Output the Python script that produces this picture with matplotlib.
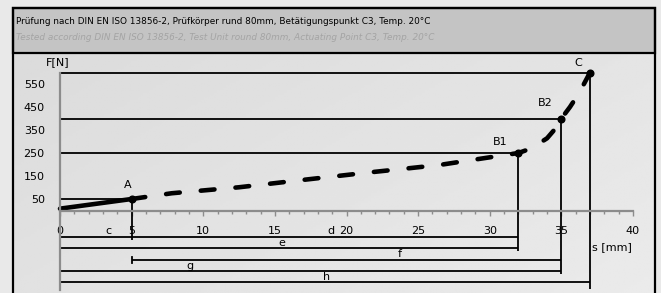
import matplotlib
matplotlib.use("Agg")
import matplotlib.pyplot as plt
import numpy as np
from matplotlib.patches import Rectangle

# force curve (s in mm, F in N)
s_solid = [0, 5]
f_solid = [8, 50]
s_dash = [5, 7.8, 12.5, 17.1, 21.8, 24.1, 26.5, 28.7, 32, 32.9, 34.0, 34.8, 35, 35.6, 36.25, 37]
f_dash = [50, 75, 101, 134, 167, 182, 198, 219, 250, 270, 314, 372, 400, 450, 512, 600]

# characteristic points
pt_names = ["A", "B1", "B2", "C"]
pt_s = [5, 32, 35, 37]
pt_f = [50, 250, 400, 600]

# dimension rows: (start, end, row level in N)
dim_start = [0, 0, 5, 0, 0]
dim_end = [32, 32, 35, 35, 37]
dim_level = [-116, -164, -214, -262, -311]
dim_names = ["c", "d", "e", "f", "g", "h"]
dim_label_s = [3.4, 18.9, 15.5, 23.7, 9.1, 18.6]
dim_label_f = [-90, -90, -140, -190, -240, -288]
drop_ends = [-128, -176, -277, -343]

x_ticks = [0, 5, 10, 15, 20, 25, 30, 35, 40]
y_ticks = [50, 150, 250, 350, 450, 550]

title_de = "Prüfung nach DIN EN ISO 13856-2, Prüfkörper rund 80mm, Betätigungspunkt C3, Temp. 20°C"
title_en = "Tested according DIN EN ISO 13856-2, Test Unit round 80mm, Actuating Point C3, Temp. 20°C"

plt.rcParams['font.family'] = ['DejaVu Sans']
FS = 8
FS_TITLE = 6.4

W, H = 661, 293
fig = plt.figure(figsize=(W / 100, H / 100), dpi=100)
fig.patch.set_facecolor("#e9e9e9")

# background gradient inside the frame
bg = fig.add_axes([13 / W, 0, 642 / W, (H - 53) / H], zorder=-1)
gx = np.linspace(0, 1, 200)
gy = np.linspace(0, 1, 100)
GX, GY = np.meshgrid(gx, gy)
grad = 0.86 + 0.06 * np.clip(0.6 * GX + 0.4 * GY, 0, 1)
bg.imshow(grad, cmap="gray", vmin=0, vmax=1, aspect="auto", extent=[0, 1, 0, 1])
bg.set_axis_off()

# frame and header
fig.add_artist(Rectangle((13 / W, -0.1), 642 / W, (H - 8) / H + 0.1, transform=fig.transFigure,
                         facecolor="none", edgecolor="black", lw=1.6, zorder=5))
fig.add_artist(Rectangle((13 / W, (H - 53) / H), 642 / W, 45 / H, transform=fig.transFigure,
                         facecolor="#c4c4c4", edgecolor="black", lw=1.6, zorder=4))
fig.text(16 / W, (H - 21) / H, title_de, fontsize=FS_TITLE, va="center", ha="left",
         color="black", zorder=6)
fig.text(16 / W, (H - 37) / H, title_en, fontsize=FS_TITLE, va="center", ha="left",
         color="#a4a4a4", style="italic", zorder=6)

ax = fig.add_axes([60 / W, 3.15 / H, 573 / W, 231.15 / H])
ax.set_facecolor("none")
ax.set_xlim(0, 40)
ax.set_ylim(-345, 660)

for sp in ["top", "right"]:
    ax.spines[sp].set_visible(False)
ax.spines['bottom'].set_position(('data', 0))
ax.spines['bottom'].set_color("#8c8c8c")
ax.spines['bottom'].set_linewidth(1.6)
ax.spines['left'].set_color("#8c8c8c")
ax.spines['left'].set_linewidth(1.6)
ax.spines['left'].set_bounds(-345, 600)

ax.set_xticks(x_ticks)
ax.set_xticks(np.arange(0, 41, 1), minor=True)
ax.tick_params(axis="x", which="major", direction="out", length=3.5, width=1, color="#8c8c8c",
               labelsize=FS, pad=8)
ax.tick_params(axis="x", which="minor", direction="out", length=2, width=1, color="#8c8c8c")
ax.set_yticks(y_ticks)
ax.tick_params(axis="y", length=0, labelsize=FS, pad=11)

# level lines and drop lines
for s, f, end in zip(pt_s, pt_f, drop_ends):
    ax.plot([0, s], [f, f], color="black", lw=1.3, solid_capstyle="butt", clip_on=False)
    ax.plot([s, s], [f, end], color="black", lw=1.3, solid_capstyle="butt", clip_on=False)

# dimension rows
for a, b, lv in zip(dim_start, dim_end, dim_level):
    ax.plot([a, b], [lv, lv], color="black", lw=1.3, solid_capstyle="butt", clip_on=False)
ax.plot([5, 5], [-200, -228], color="black", lw=1.3, clip_on=False)
for name, s, f in zip(dim_names, dim_label_s, dim_label_f):
    ax.text(s, f, name, fontsize=FS, ha="center", va="center")

# force curve
ax.plot(s_solid, f_solid, color="black", lw=3.3, solid_capstyle="round", clip_on=False)
ax.plot(s_dash, f_dash, color="black", lw=3.3, linestyle=(0, (3.0, 4.6)), dash_capstyle="round",
        clip_on=False)
ax.plot(pt_s, pt_f, "o", color="black", ms=4.8, clip_on=False)

label_ds = [-0.3, -1.3, -1.1, -0.8]
label_df = [61, 48, 67, 41]
for name, s, f, ds, df in zip(pt_names, pt_s, pt_f, label_ds, label_df):
    ax.text(s + ds, f + df, name, fontsize=FS, ha="center", va="center")

ax.text(-0.15, 645, "F[N]", fontsize=FS, ha="center", va="center")
ax.text(38.5, -159, "s [mm]", fontsize=FS, ha="center", va="center")

fig.savefig("out.png", dpi=100, facecolor=fig.get_facecolor())
